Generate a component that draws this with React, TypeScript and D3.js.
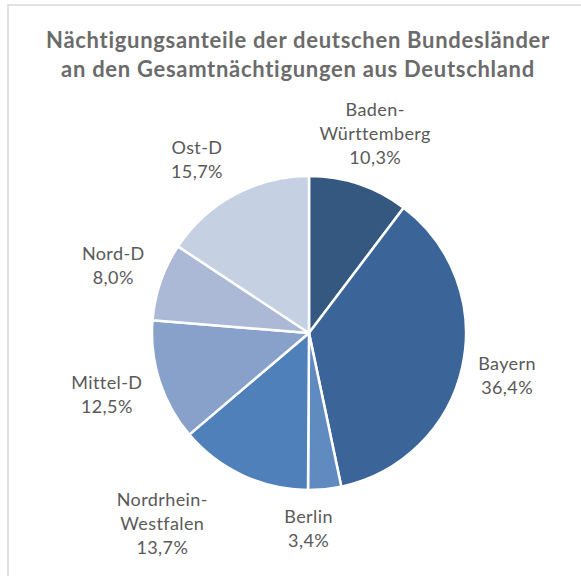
import * as d3 from "d3";

const categories = ["Baden-Württemberg", "Bayern", "Berlin", "Nordrhein-Westfalen", "Mittel-D", "Nord-D", "Ost-D"];
const labelLines = [["Baden-", "Württemberg"], ["Bayern"], ["Berlin"], ["Nordrhein-", "Westfalen"], ["Mittel-D"], ["Nord-D"], ["Ost-D"]];
const shares = [10.3, 36.4, 3.4, 13.7, 12.5, 8.0, 15.7];
const colors = ["#34587f", "#3b6598", "#5f8bc1", "#4f80ba", "#87a1cb", "#abb9d6", "#c5d0e2"];
const titleLines = ["Nächtigungsanteile der deutschen Bundesländer", "an den Gesamtnächtigungen aus Deutschland"];

// label nudges (Excel best-fit placement)
const labelNudge = [[1, -4], [-2, -1], [-21, -7], [-60, 6], [-7, 0], [-2, 1], [-15, 9]];

const App = () => {
    const width = 581;
    const height = 576;
    const cx = 309;
    const cy = 333;
    const radius = 157;
    const labelR = 205;
    const lineH = 24;
    const font = "Lato, 'Open Sans', sans-serif";

    const data = categories.map((c, i) => ({ name: c, value: shares[i], lines: labelLines[i], color: colors[i] }));
    const pie = d3.pie<any>().sort(null).value(d => d.value);
    const arcs = pie(data);
    const arc = d3.arc<any>().innerRadius(0).outerRadius(radius);
    const labelArc = d3.arc<any>().innerRadius(labelR).outerRadius(labelR);
    const fmt = (v: number) => v.toFixed(1).replace(".", ",") + "%";

    return (
        <div style={{ position: "absolute", left: 0, top: 0, width, height, background: "#fff" }}>
            <svg width={width} height={height} style={{ display: "block" }}>
                <rect x={8} y={5} width={width} height={height} fill="#fff" stroke="#d9d9d9" strokeWidth={1.5} />
                <g fill="#6b6b6b" fontFamily={font} fontWeight="bold" fontSize={22} letterSpacing={0.7} textAnchor="middle">
                    { titleLines.map((t, i) => (
                        <text key={i} x={298} y={48 + i * 29}>{t}</text>
                    )) }
                </g>
                <g transform={`translate(${cx},${cy})`}>
                    { arcs.map((a, i) => (
                        <path key={i} d={arc(a) as string} fill={a.data.color} stroke="#fff" strokeWidth={2.5} strokeLinejoin="round" />
                    )) }
                </g>
                <g fill="#595959" fontFamily={font} fontSize={18} letterSpacing={0.4} textAnchor="middle">
                    { arcs.map((a, i) => {
                        const [lx, ly] = labelArc.centroid(a);
                        const lines = [...a.data.lines, fmt(a.data.value)];
                        const x = cx + lx + labelNudge[i][0];
                        const y0 = cy + ly + labelNudge[i][1] - (lines.length - 1) * lineH / 2;
                        return (
                            <text key={i} x={x} dominantBaseline="middle">
                                { lines.map((l, j) => (
                                    <tspan key={j} x={x} y={y0 + j * lineH}>{l}</tspan>
                                )) }
                            </text>
                        );
                    }) }
                </g>
            </svg>
        </div>
    );
};

export default App;
